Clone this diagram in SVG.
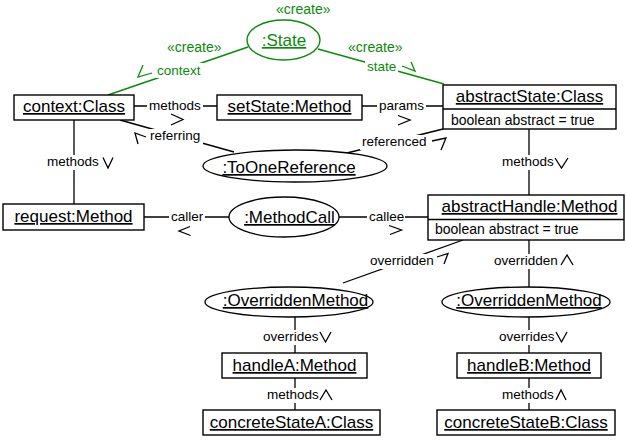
<svg xmlns="http://www.w3.org/2000/svg" width="627" height="441" viewBox="0 0 627 441">
<style>
text{font-family:"Liberation Sans",Arial,sans-serif;fill:#000}
.n{font-size:17px;text-anchor:middle;text-decoration:underline}
.a{font-size:14px}
.l{font-size:13.5px}
.g{fill:#0a8a0a}
.box{fill:#fff;stroke:#000;stroke-width:1.4}
.ell{fill:#fff;stroke:#000;stroke-width:1.3}
.ln{stroke:#000;stroke-width:1.3;fill:none}
.gl{stroke:#0a8a0a;stroke-width:1.4;fill:none}
.bg{fill:#fff}
.ar{stroke:#000;stroke-width:1.3;fill:none}
.gar{stroke:#0a8a0a;stroke-width:1.3;fill:none}
</style>
<rect width="627" height="441" fill="#fff"/>
<g id="connectors">
<line class="gl" x1="108" y1="95" x2="248" y2="47"/>
<line class="gl" x1="318" y1="49" x2="444" y2="84"/>
<line class="ln" x1="134" y1="106" x2="217" y2="106"/>
<line class="ln" x1="362" y1="106" x2="443" y2="106"/>
<line class="ln" x1="120" y1="120" x2="234" y2="152"/>
<line class="ln" x1="347" y1="153" x2="443" y2="129"/>
<line class="ln" x1="74" y1="120" x2="74" y2="204"/>
<line class="ln" x1="529" y1="129" x2="529" y2="195"/>
<line class="ln" x1="144" y1="217" x2="229" y2="217"/>
<line class="ln" x1="339" y1="217" x2="428" y2="217"/>
<line class="ln" x1="463" y1="240" x2="343" y2="283"/>
<line class="ln" x1="529" y1="240" x2="529" y2="287"/>
<line class="ln" x1="295" y1="317" x2="295" y2="353"/>
<line class="ln" x1="295" y1="378" x2="295" y2="410"/>
<line class="ln" x1="529" y1="317" x2="529" y2="353"/>
<line class="ln" x1="529" y1="378" x2="529" y2="410"/>
<rect class="bg" x="164" y="40" width="58" height="15"/>
<rect class="bg" x="345" y="40" width="58" height="15"/>
<rect class="bg" x="155" y="63" width="48" height="15"/>
<rect class="bg" x="365" y="59" width="33" height="15"/>
<rect class="bg" x="147" y="99" width="56" height="15"/>
<rect class="bg" x="377" y="99" width="49" height="15"/>
<rect class="bg" x="148" y="129" width="55" height="15"/>
<rect class="bg" x="360" y="135" width="68" height="15"/>
<rect class="bg" x="45" y="155" width="56" height="15"/>
<rect class="bg" x="500" y="155" width="56" height="15"/>
<rect class="bg" x="169" y="210" width="36" height="15"/>
<rect class="bg" x="367" y="210" width="38" height="15"/>
<rect class="bg" x="368" y="254" width="67" height="15"/>
<rect class="bg" x="492" y="254" width="67" height="15"/>
<rect class="bg" x="261" y="330" width="58" height="15"/>
<rect class="bg" x="497" y="330" width="58" height="15"/>
<rect class="bg" x="265" y="388" width="55" height="15"/>
<rect class="bg" x="501" y="388" width="55" height="15"/>
<text class="a g" x="167" y="52">«create»</text>
<text class="a g" x="348" y="52">«create»</text>
<text class="l g" x="157" y="75">context</text>
<text class="l g" x="367" y="71">state</text>
<text class="l" x="149" y="110">methods</text>
<text class="l" x="379" y="110">params</text>
<text class="l" x="150" y="140">referring</text>
<text class="l" x="362" y="146">referenced</text>
<text class="l" x="47" y="166">methods</text>
<text class="l" x="502" y="166">methods</text>
<text class="l" x="171" y="221">caller</text>
<text class="l" x="369" y="221">callee</text>
<text class="l" x="370" y="265">overridden</text>
<text class="l" x="494" y="265">overridden</text>
<text class="l" x="263" y="341">overrides</text>
<text class="l" x="499" y="341">overrides</text>
<text class="l" x="267" y="399">methods</text>
<text class="l" x="502" y="399">methods</text>
<polyline class="gar" points="143,65 138,77 152,73"/>
<polyline class="gar" points="402,66 415,71 411,62"/>
<polyline class="ar" points="171,114 183,119.5 171,125"/>
<polyline class="ar" points="398,115.5 410,120 398,125"/>
<polyline class="ar" points="146,137 135,133 138,144"/>
<polyline class="ar" points="432,141 446,138 441,150"/>
<polyline class="ar" points="103,157.5 108,168 113,157.5"/>
<polyline class="ar" points="555,158 561.5,168 568,158"/>
<polyline class="ar" points="190,226.5 179,231 190.5,235.5"/>
<polyline class="ar" points="389,225.5 401.5,230 390,234.5"/>
<polyline class="ar" points="437,257 448,253.5 444,264"/>
<polyline class="ar" points="561,265 567,255 573,265"/>
<polyline class="ar" points="320,332 325.5,342 331,332"/>
<polyline class="ar" points="556,332 561.5,342 567,332"/>
<polyline class="ar" points="320,400 326,390 332,400"/>
<polyline class="ar" points="556,400 561,390 566,400"/>
</g>
<g id="state">
<text class="a g" x="276" y="14">«create»</text>
<ellipse cx="283.5" cy="40" rx="36.5" ry="20" fill="#fff" stroke="#0a8a0a" stroke-width="1.4"/>
<text class="n g" x="284" y="46">:State</text>
</g>
<g id="context">
<rect class="box" x="14" y="95" width="120" height="25"/>
<text class="n" x="74" y="112">context:Class</text>
</g>
<g id="setState">
<rect class="box" x="217" y="95" width="145" height="25"/>
<text class="n" x="289.5" y="112">setState:Method</text>
</g>
<g id="abstractState">
<rect class="box" x="443" y="85" width="173" height="44"/>
<line class="ln" x1="443" y1="109" x2="616" y2="109"/>
<text class="n" x="529.5" y="102">abstractState:Class</text>
<text class="a" x="451" y="124.5">boolean abstract = true</text>
</g>
<g id="toOneReference">
<ellipse class="ell" cx="295" cy="166" rx="92" ry="16"/>
<text class="n" x="289" y="173">:ToOneReference</text>
</g>
<g id="request">
<rect class="box" x="3" y="204" width="141" height="26"/>
<text class="n" x="73.5" y="222">request:Method</text>
</g>
<g id="methodCall">
<ellipse class="ell" cx="284" cy="217" rx="55" ry="20"/>
<text class="n" x="289.5" y="223">:MethodCall</text>
</g>
<g id="abstractHandle">
<rect class="box" x="428" y="195" width="196" height="45"/>
<line class="ln" x1="428" y1="219.5" x2="624" y2="219.5"/>
<text class="n" x="529.5" y="212">abstractHandle:Method</text>
<text class="a" x="435" y="234">boolean abstract = true</text>
</g>
<g id="overriddenA">
<ellipse class="ell" cx="289" cy="302" rx="84" ry="15"/>
<text class="n" x="295.5" y="306">:OverriddenMethod</text>
</g>
<g id="overriddenB">
<ellipse class="ell" cx="526" cy="302" rx="84" ry="15"/>
<text class="n" x="529" y="306">:OverriddenMethod</text>
</g>
<g id="handleA">
<rect class="box" x="222" y="353" width="145" height="25"/>
<text class="n" x="294.5" y="371">handleA:Method</text>
</g>
<g id="handleB">
<rect class="box" x="457" y="353" width="144" height="25"/>
<text class="n" x="529" y="371">handleB:Method</text>
</g>
<g id="concreteStateA">
<rect class="box" x="203" y="410" width="177" height="25"/>
<text class="n" x="291.5" y="428">concreteStateA:Class</text>
</g>
<g id="concreteStateB">
<rect class="box" x="437" y="410" width="178" height="25"/>
<text class="n" x="526" y="428">concreteStateB:Class</text>
</g>
</svg>
